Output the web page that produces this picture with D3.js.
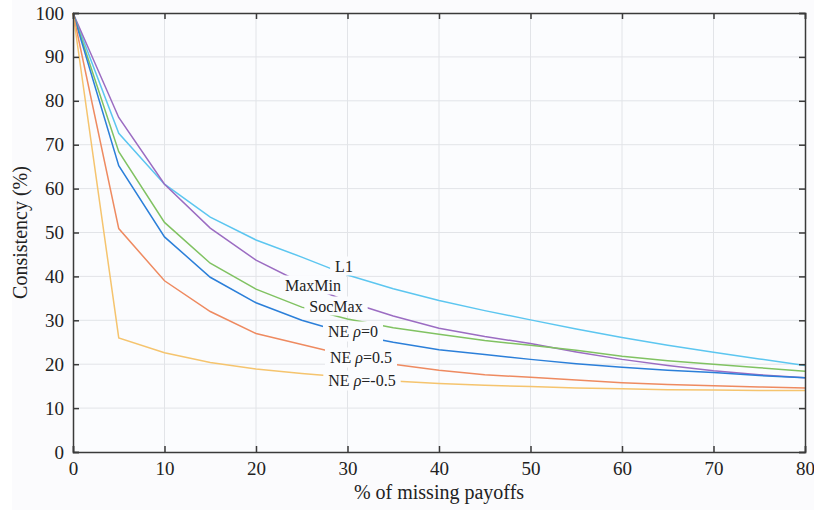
<!DOCTYPE html>
<html>
<head>
<meta charset="utf-8">
<script src="https://cdn.jsdelivr.net/npm/d3@7"></script>
<style>
  body { margin: 0; background: #ffffff; }
  svg { display: block; }
  text { font-family: "Liberation Serif", "DejaVu Serif", serif; fill: #222222; }
</style>
</head>
<body>
<div id="chart"></div>
<script>
// Data.
const missing = [0, 5, 10, 15, 20, 25, 30, 35, 40, 45, 50, 55, 60, 65, 70, 75, 80];
const l1     = [100, 72.6, 61.0, 53.5, 48.3, 44.4, 40.3, 37.2, 34.5, 32.2, 30.1, 28.0, 26.1, 24.3, 22.7, 21.2, 19.7];
const maxMin = [100, 76.2, 61.0, 51.0, 43.7, 38.5, 34.3, 31.0, 28.2, 26.3, 24.7, 22.8, 21.1, 19.7, 18.5, 17.6, 16.9];
const socMax = [100, 68.4, 52.3, 43.0, 37.1, 33.0, 30.3, 28.3, 26.8, 25.4, 24.3, 23.2, 21.8, 20.8, 20.0, 19.2, 18.4];
const ne0    = [100, 65.2, 49.0, 39.8, 34.0, 30.0, 27.0, 25.0, 23.3, 22.2, 21.1, 20.1, 19.3, 18.6, 18.1, 17.4, 16.9];
const ne05   = [100, 50.9, 39.0, 32.0, 27.0, 24.5, 22.0, 20.0, 18.6, 17.6, 17.0, 16.4, 15.8, 15.4, 15.1, 14.8, 14.6];
const neM05  = [100, 26.0, 22.6, 20.4, 18.9, 17.9, 17.0, 16.2, 15.6, 15.2, 14.9, 14.6, 14.4, 14.2, 14.1, 14.0, 14.0];

const xTicks = [0, 10, 20, 30, 40, 50, 60, 70, 80];
const yTicks = [0, 10, 20, 30, 40, 50, 60, 70, 80, 90, 100];

const series = [
  { name: 'L1',        values: l1,     color: '#5cc6f0', lx: 344, ly: 266 },
  { name: 'MaxMin',    values: maxMin, color: '#9b6cc2', lx: 313, ly: 285 },
  { name: 'SocMax',    values: socMax, color: '#80c262', lx: 336, ly: 306 },
  { name: 'NE ρ=0',    values: ne0,    color: '#2b7fd9', lx: 353, ly: 331 },
  { name: 'NE ρ=0.5',  values: ne05,   color: '#ee8a60', lx: 361, ly: 357 },
  { name: 'NE ρ=-0.5', values: neM05,  color: '#f5c46e', lx: 362, ly: 380 }
];

// SVG constants.
const width = 814;
const height = 510;
const margin = { top: 13, right: 9, bottom: 58, left: 73 };
const plotBg = '#fbfcfe';

const svg = d3.select('#chart')
              .append('svg')
              .attr('width', width)
              .attr('height', height);

// Faint figure background.
svg.append('rect')
   .attr('x', 12).attr('y', 0)
   .attr('width', width - 12).attr('height', height)
   .attr('fill', '#fbfbfd');

const x = d3.scaleLinear()
            .domain([0, 80])
            .range([margin.left, width - margin.right]);

const y = d3.scaleLinear()
            .domain([0, 100])
            .range([height - margin.bottom, margin.top]);

svg.append('rect')
   .attr('x', x(0)).attr('y', y(100))
   .attr('width', x(80) - x(0)).attr('height', y(0) - y(100))
   .attr('fill', plotBg);

// Grid.
const grid = svg.append('g').attr('class', 'grid');
grid.selectAll('line.vx')
    .data(xTicks.slice(1, -1))
    .enter()
    .append('line')
    .attr('x1', d => x(d)).attr('x2', d => x(d))
    .attr('y1', y(0)).attr('y2', y(100))
    .attr('stroke', '#e2e4e8')
    .attr('stroke-width', 1);
grid.selectAll('line.hy')
    .data(yTicks.slice(1, -1))
    .enter()
    .append('line')
    .attr('y1', d => y(d)).attr('y2', d => y(d))
    .attr('x1', x(0)).attr('x2', x(80))
    .attr('stroke', '#e2e4e8')
    .attr('stroke-width', 1);

// Lines.
const line = d3.line()
               .x((d, i) => x(missing[i]))
               .y(d => y(d));

svg.append('g')
   .selectAll('path')
   .data(series)
   .enter()
   .append('path')
   .attr('d', d => line(d.values))
   .attr('fill', 'none')
   .attr('stroke', d => d.color)
   .attr('stroke-width', 1.5);

// Axes (box with inward ticks).
const axisColor = '#3a3a3a';
const xAxis = d3.axisBottom(x).tickValues(xTicks).tickSize(-6).tickPadding(10);
const yAxis = d3.axisLeft(y).tickValues(yTicks).tickSize(-6).tickPadding(9);

const gx = svg.append('g')
              .attr('transform', 'translate(0,' + y(0) + ')')
              .call(xAxis);
const gy = svg.append('g')
              .attr('transform', 'translate(' + x(0) + ',0)')
              .call(yAxis);
const gxTop = svg.append('g')
                 .attr('transform', 'translate(0,' + y(100) + ')')
                 .call(d3.axisTop(x).tickValues(xTicks).tickSize(-6).tickFormat(''));
const gyRight = svg.append('g')
                   .attr('transform', 'translate(' + x(80) + ',0)')
                   .call(d3.axisRight(y).tickValues(yTicks).tickSize(-6).tickFormat(''));

[gx, gy, gxTop, gyRight].forEach(g => {
  g.select('.domain').attr('stroke', axisColor).attr('stroke-width', 1.5);
  g.selectAll('.tick line').attr('stroke', axisColor).attr('stroke-width', 1.5);
  g.selectAll('.tick text')
   .style('font-family', '"Liberation Serif", serif')
   .style('font-size', '19px')
   .attr('fill', '#222222');
});

// Axis titles.
svg.append('text')
   .attr('x', (x(0) + x(80)) / 2)
   .attr('y', 499)
   .attr('text-anchor', 'middle')
   .style('font-size', '20px')
   .text('% of missing payoffs');

svg.append('text')
   .attr('transform', 'translate(27,' + (y(0) + y(100)) / 2 + ') rotate(-90)')
   .attr('text-anchor', 'middle')
   .style('font-size', '20px')
   .text('Consistency (%)');

// Inline labels with background boxes.
const labels = svg.append('g');
series.forEach(s => {
  const g = labels.append('g');
  const t = g.append('text')
             .attr('x', s.lx)
             .attr('y', s.ly)
             .attr('text-anchor', 'middle')
             .attr('dominant-baseline', 'central')
             .style('font-size', '16px');
  const parts = s.name.split('ρ');
  t.append('tspan').text(parts[0]);
  if (parts.length > 1) {
    t.append('tspan').style('font-style', 'italic').text('ρ');
    t.append('tspan').text(parts[1]);
  }
  const bb = t.node().getBBox();
  g.insert('rect', 'text')
   .attr('x', bb.x - 5)
   .attr('y', bb.y - 1)
   .attr('width', bb.width + 10)
   .attr('height', bb.height + 2)
   .attr('fill', plotBg);
});
</script>
</body>
</html>
